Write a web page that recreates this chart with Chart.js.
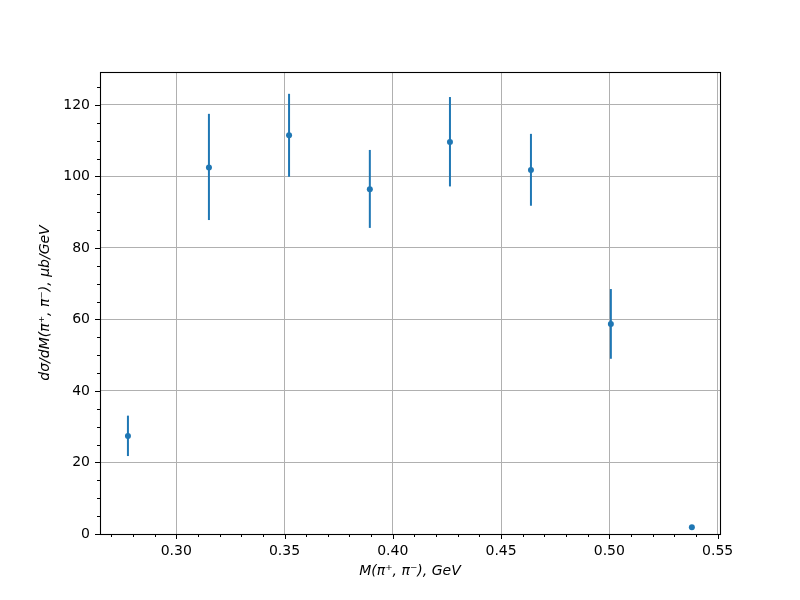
<!DOCTYPE html>
<html>
<head>
<meta charset="utf-8">
<script src="https://cdn.jsdelivr.net/npm/chart.js@4/dist/chart.umd.min.js"></script>
<style>
  html, body { margin: 0; padding: 0; background: #fff; }
  #wrap { width: 800px; height: 600px; }
</style>
</head>
<body>
<div id="wrap"><canvas id="plot" width="800" height="600"></canvas></div>
<script>
const massBins = [0.2777, 0.3151, 0.3521, 0.3894, 0.4264, 0.4638, 0.5007, 0.5381];
const xsec     = [27.4, 102.5, 111.5, 96.4, 109.6, 101.8, 58.7, 1.9];
const errLow   = [21.8, 87.8, 99.9, 85.6, 97.2, 91.8, 49.0, 1.9];
const errHigh  = [33.1, 117.5, 123.1, 107.4, 122.2, 111.9, 68.5, 1.9];

const xTicks = [0.30, 0.35, 0.40, 0.45, 0.50, 0.55];
const yTicks = [0, 20, 40, 60, 80, 100, 120];
const xMinorTicks = [0.27, 0.28, 0.29, 0.31, 0.32, 0.33, 0.34, 0.36, 0.37, 0.38, 0.39,
                     0.41, 0.42, 0.43, 0.44, 0.46, 0.47, 0.48, 0.49, 0.51, 0.52, 0.53, 0.54];
const yMinorTicks = [5, 10, 15, 25, 30, 35, 45, 50, 55, 65, 70, 75, 85, 90, 95, 105, 110, 115, 125];

const blue = '#1f77b4';

// error bars, frame and ticks like matplotlib
const mplExtras = {
    id: 'mplExtras',
    beforeDatasetsDraw(chart) {
        const c = chart.ctx, xs = chart.scales.x, ys = chart.scales.y;
        c.save();
        c.strokeStyle = blue;
        c.lineWidth = 2;
        massBins.forEach((m, i) => {
            const px = xs.getPixelForValue(m);
            c.beginPath();
            c.moveTo(px, ys.getPixelForValue(errLow[i]));
            c.lineTo(px, ys.getPixelForValue(errHigh[i]));
            c.stroke();
        });
        c.restore();
    },
    afterDraw(chart) {
        const c = chart.ctx, a = chart.chartArea, xs = chart.scales.x, ys = chart.scales.y;
        c.save();
        c.strokeStyle = '#000';
        c.lineWidth = 1;
        c.beginPath();
        xTicks.forEach(v => { const p = Math.round(xs.getPixelForValue(v)) + 0.5; c.moveTo(p, a.bottom); c.lineTo(p, a.bottom + 5); });
        xMinorTicks.forEach(v => { const p = Math.round(xs.getPixelForValue(v)) + 0.5; c.moveTo(p, a.bottom); c.lineTo(p, a.bottom + 3); });
        yTicks.forEach(v => { const p = Math.round(ys.getPixelForValue(v)) + 0.5; c.moveTo(a.left, p); c.lineTo(a.left - 5, p); });
        yMinorTicks.forEach(v => { const p = Math.round(ys.getPixelForValue(v)) + 0.5; c.moveTo(a.left, p); c.lineTo(a.left - 3, p); });
        c.stroke();
        c.lineWidth = 1.1;
        c.strokeRect(Math.round(a.left) + 0.5, Math.round(a.top) + 0.5,
                     Math.round(a.right - a.left), Math.round(a.bottom - a.top));
        c.restore();
    }
};

new Chart(document.getElementById('plot'), {
    type: 'scatter',
    data: {
        datasets: [{
            data: massBins.map((m, i) => ({ x: m, y: xsec[i] })),
            backgroundColor: blue,
            borderColor: blue,
            pointRadius: 3,
            pointBorderWidth: 0,
            pointHoverRadius: 3
        }]
    },
    options: {
        responsive: false,
        animation: false,
        events: [],
        layout: { padding: { top: 72, right: 80, left: 0, bottom: 0 } },
        plugins: { legend: { display: false }, tooltip: { enabled: false } },
        scales: {
            x: {
                type: 'linear',
                min: 0.2648,
                max: 0.5511,
                afterBuildTicks: s => { s.ticks = xTicks.map(v => ({ value: v })); },
                afterFit: s => { s.height = 66; },
                grid: { color: '#b0b0b0', lineWidth: 1, drawTicks: false },
                border: { display: false },
                ticks: {
                    color: '#000',
                    padding: 9,
                    maxRotation: 0,
                    font: { family: 'DejaVu Sans', size: 14 },
                    callback: v => Number(v).toFixed(2)
                },
                title: {
                    display: true,
                    text: 'M(π⁺, π⁻), GeV',
                    color: '#000',
                    padding: { top: 0, bottom: 20 },
                    font: { family: 'DejaVu Sans', size: 14, style: 'italic' }
                }
            },
            y: {
                min: 0,
                max: 129.2,
                afterBuildTicks: s => { s.ticks = yTicks.map(v => ({ value: v })); },
                afterFit: s => { s.width = 100; },
                grid: { color: '#b0b0b0', lineWidth: 1, drawTicks: false },
                border: { display: false },
                ticks: {
                    color: '#000',
                    padding: 10,
                    font: { family: 'DejaVu Sans', size: 14 },
                    callback: v => String(v)
                },
                title: {
                    display: true,
                    text: 'dσ/dM(π⁺, π⁻), μb/GeV',
                    color: '#000',
                    padding: { top: 37, bottom: 0 },
                    font: { family: 'DejaVu Sans', size: 14, style: 'italic' }
                }
            }
        }
    },
    plugins: [mplExtras]
});
</script>
</body>
</html>
